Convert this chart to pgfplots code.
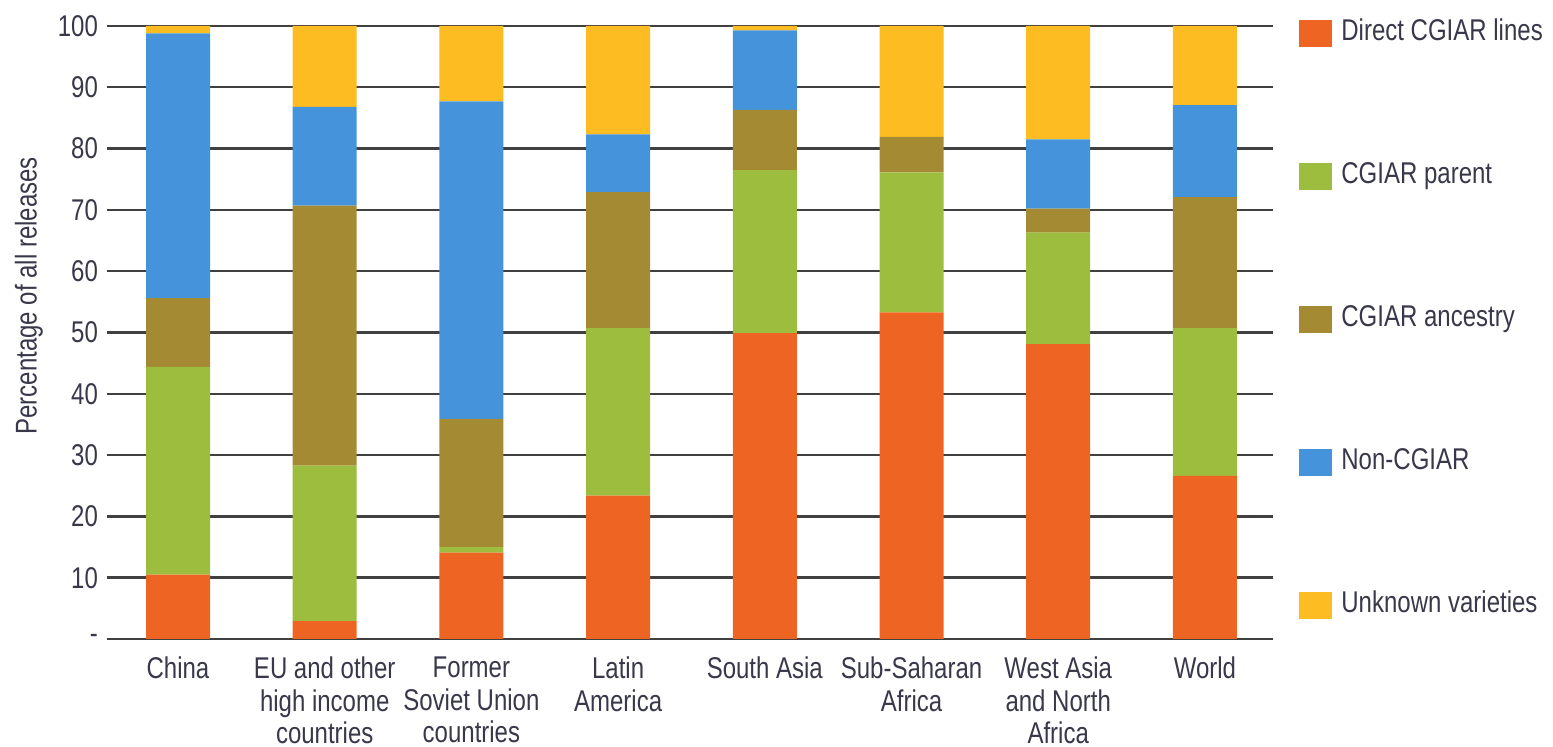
\documentclass[border=0pt]{standalone}
\usepackage{pgfplots}
\usepackage{pgfplotstable}
\pgfplotsset{compat=1.18}
\usepackage{fontspec}
\setmainfont{Liberation Sans}[FakeStretch=0.8]
\definecolor{cDirect}{HTML}{EE6422}
\definecolor{cParent}{HTML}{9DBD3F}
\definecolor{cAnc}{HTML}{A48A33}
\definecolor{cNon}{HTML}{4594DB}
\definecolor{cUnk}{HTML}{FDBC22}
\definecolor{txt}{HTML}{38384A}
\pgfplotsset{sq/.style={legend image code/.code={\fill[##1] (0pt,-6.75pt) rectangle (16.5pt,6.75pt);}}}
\pgfplotstableread{
x direct parent ancestry non unknown
0 10.5 33.9 11.2 43.2 1.2
1 2.9 25.4 42.4 16.1 13.2
2 14.1 0.9 20.9 51.8 12.3
3 23.4 27.3 22.2 9.4 17.7
4 49.9 26.6 9.8 13.0 0.7
5 53.3 22.8 5.8 0.0 18.1
6 48.1 18.2 3.9 11.3 18.5
7 26.6 24.1 21.4 15.0 12.9
}\datatable
\begin{document}
\begin{tikzpicture}[font=\fontsize{15}{16.25}\selectfont]
\path[use as bounding box] (-53.5pt,-54pt) rectangle (723pt,319.5pt);
\begin{axis}[
  ybar stacked,
  bar width=32pt,
  scale only axis,
  width=583pt, height=306.5pt,
  xmin=-0.484, xmax=7.464,
  ymin=0, ymax=100,
  xtick={0,1,2,3,4,5,6,7},
  xticklabels={China,{EU and other\\high income\\countries},{Former\\Soviet Union\\countries},{Latin\\America},South Asia,{Sub-Saharan\\Africa},{West Asia\\and North\\Africa},World},
  ytick={0,10,20,30,40,50,60,70,80,90,100},
  yticklabels={-,10,20,30,40,50,60,70,80,90,100},
  ymajorgrids,
  major grid style={line width=1.2pt, color=black!75},
  axis line style={draw=none},
  major tick length=0pt,
  tick style={draw=none},
  yticklabel style={text=txt, anchor=east, xshift=-1pt},
  xticklabel style={text=txt, align=center, anchor=north, yshift=-5.5pt},
  ylabel={Percentage of all releases},
  ylabel style={at={(axis description cs:-0.067,0.56)}, anchor=center, text=txt},
  legend style={at={(axis description cs:1,1)}, anchor=north west, xshift=13pt, yshift=3.25pt,
    draw=none, fill=none, inner sep=0pt, row sep=58pt, column sep=4.5pt,
    nodes={inner sep=0pt, text=txt, text height=10pt, text depth=3pt}},
  legend cell align=left,
]
\addplot[fill=cDirect, draw=none, sq] table[x=x, y=direct] {\datatable};
\addplot[fill=cParent, draw=none, sq] table[x=x, y=parent] {\datatable};
\addplot[fill=cAnc, draw=none, sq] table[x=x, y=ancestry] {\datatable};
\addplot[fill=cNon, draw=none, sq] table[x=x, y=non] {\datatable};
\addplot[fill=cUnk, draw=none, sq] table[x=x, y=unknown] {\datatable};
\legend{Direct CGIAR lines, CGIAR parent, CGIAR ancestry, Non-CGIAR, Unknown varieties}
\end{axis}
\end{tikzpicture}
\end{document}
